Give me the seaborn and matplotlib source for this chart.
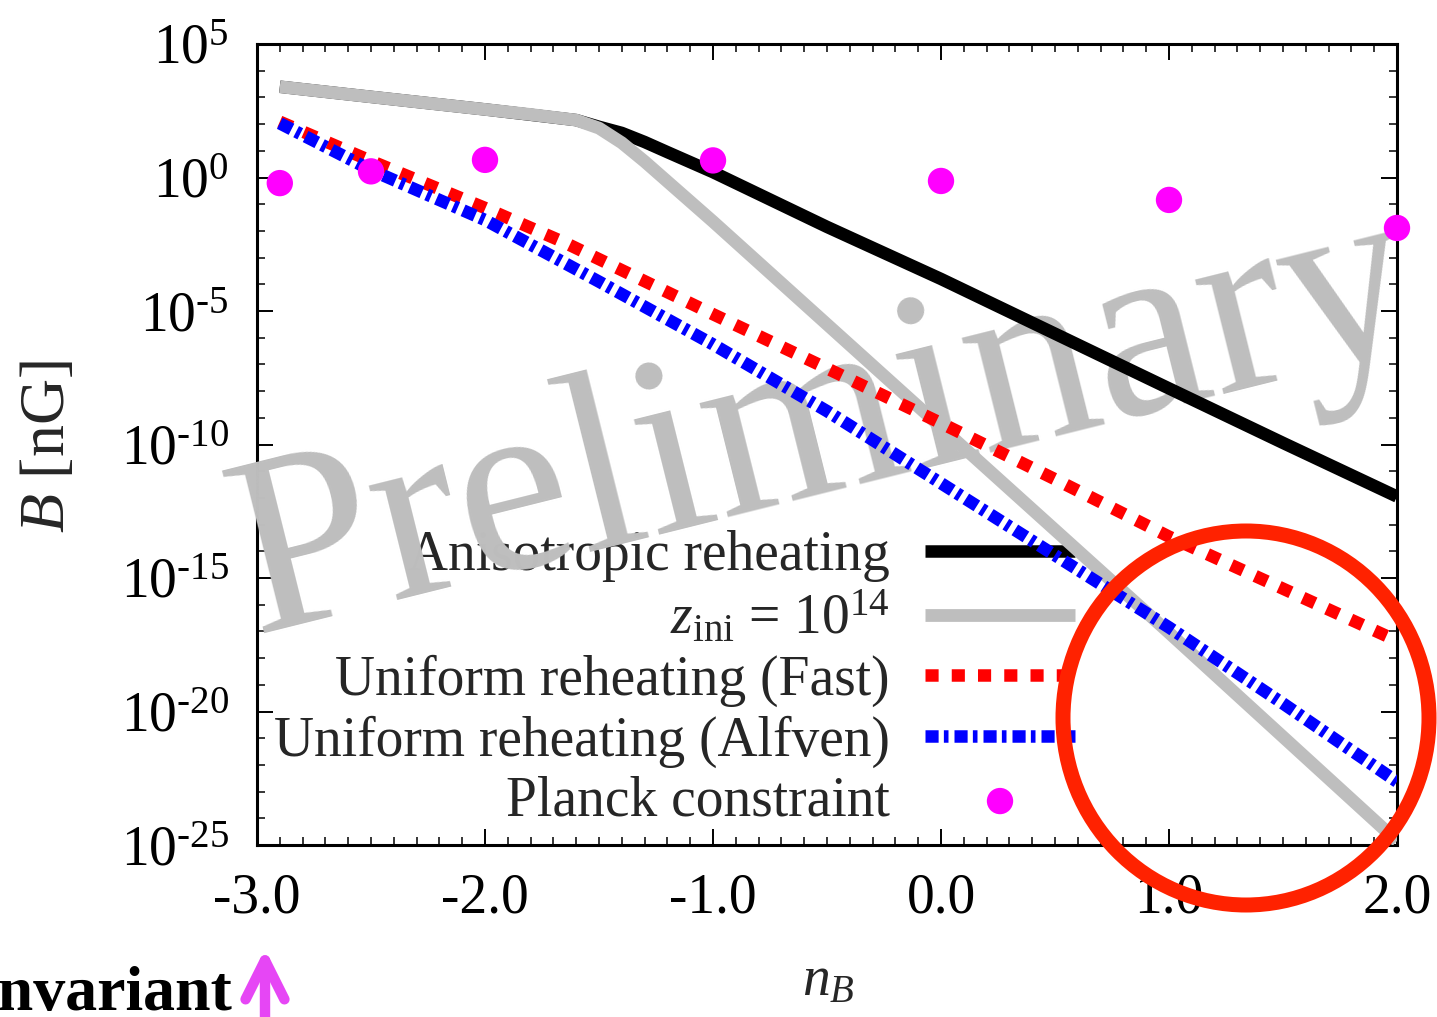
import numpy as np
import matplotlib
matplotlib.use("Agg")
import matplotlib.pyplot as plt
import matplotlib.ticker as mticker
from matplotlib.patches import Ellipse, FancyArrowPatch
import seaborn as sns

# ---------------- data ----------------
nB_aniso = [-2.9, -2.5, -2.0, -1.6, -1.5, -1.4, -1.3, -1.2, -1.0, -0.5, 0.0, 0.5, 1.0, 1.5, 2.0]
log10B_aniso = [3.40, 3.02, 2.55, 2.15, 1.90, 1.67, 1.33, 0.95, 0.20, -1.85, -3.80, -5.85, -7.90, -9.94, -11.95]

nB_zini = [-2.9, -2.5, -2.0, -1.8, -1.6, -1.5, -1.4, -1.3, -1.0, 0.0, 1.0, 2.0]
log10B_zini = [3.40, 3.02, 2.55, 2.36, 2.15, 1.85, 1.30, 0.60, -1.65, -9.35, -17.05, -24.85]

nB_fast = [-2.9, -2.5, -2.0, -1.65, -1.0, -0.5, 0.0, 0.5, 1.0, 1.5, 2.0]
log10B_fast = [2.09, 0.62, -1.14, -2.44, -5.12, -7.15, -9.20, -11.30, -13.45, -15.40, -17.35]

nB_alfven = [-2.9, -2.5, -2.0, -1.5, -1.0, -0.5, 0.0, 0.5, 1.0, 1.5, 2.0]
log10B_alfven = [2.03, 0.28, -1.59, -3.90, -6.25, -8.75, -11.45, -14.15, -16.85, -19.70, -22.63]

nB_planck = [-2.9, -2.5, -2.0, -1.0, 0.0, 1.0, 2.0]
log10B_planck = [-0.21, 0.23, 0.66, 0.64, -0.13, -0.84, -1.89]

series_labels = ["Anisotropic reheating",
                 r"$z_{\mathrm{ini}}$ = 10$^{14}$",
                 "Uniform reheating (Fast)",
                 "Uniform reheating (Alfven)",
                 "Planck constraint"]

x_ticks = [-3.0, -2.0, -1.0, 0.0, 1.0, 2.0]
x_tick_labels = ["-3.0", "-2.0", "-1.0", "0.0", "1.0", "2.0"]
y_tick_exps = [5, 0, -5, -10, -15, -20, -25]
y_tick_labels = [r"$10^{%s}$" % (str(e).replace("-", "\u2010")) for e in y_tick_exps]

# ---------------- style ----------------
sns.set_style("ticks")
plt.rcParams["font.family"] = ["Liberation Serif", "DejaVu Serif"]
plt.rcParams["mathtext.fontset"] = "custom"
plt.rcParams["mathtext.rm"] = "Liberation Serif"
plt.rcParams["mathtext.it"] = "Liberation Serif:italic"
plt.rcParams["mathtext.bf"] = "Liberation Serif:bold"
plt.rcParams["axes.unicode_minus"] = False

W, H = 1437, 1017
fig = plt.figure(figsize=(W / 100, H / 100), dpi=100)
L, R, T, B = 257, 1397, 44, 845
ax = fig.add_axes([L / W, (H - B) / H, (R - L) / W, (B - T) / H])
ax.set_yscale("log")
ax.set_xlim(-3.0, 2.0)
ax.set_ylim(1e-25, 1e5)

FS = 40
lw_main = 9.0

sns.lineplot(x=nB_aniso, y=10 ** np.array(log10B_aniso), ax=ax, color="black",
             linewidth=lw_main, label=series_labels[0], zorder=6,
             solid_capstyle="butt", estimator=None, sort=False)
sns.lineplot(x=nB_zini, y=10 ** np.array(log10B_zini), ax=ax, color="#bebebe",
             linewidth=9.2, label=series_labels[1], zorder=6.1,
             solid_capstyle="butt", estimator=None, sort=False)
sns.lineplot(x=nB_fast, y=10 ** np.array(log10B_fast), ax=ax, color="#ff0000",
             linewidth=lw_main, label=series_labels[2], zorder=6.2,
             linestyle=(0, (1.05, 1.05)), dash_capstyle="butt", estimator=None, sort=False)
sns.lineplot(x=nB_alfven, y=10 ** np.array(log10B_alfven), ax=ax, color="#0000ff",
             linewidth=lw_main, label=series_labels[3], zorder=6.3,
             linestyle=(0, (1.05, 0.42, 0.37, 0.48)), dash_capstyle="butt",
             estimator=None, sort=False)
sns.scatterplot(x=nB_planck, y=10 ** np.array(log10B_planck), ax=ax, color="#ff00ff",
                s=360, edgecolor="none", linewidth=0, label=series_labels[4], zorder=7,
                clip_on=False)

# ---------------- axes ----------------
ax.set_xticks(x_ticks, labels=x_tick_labels)
ax.xaxis.set_minor_locator(mticker.MultipleLocator(0.1))
ax.yaxis.set_major_locator(mticker.FixedLocator([10.0 ** e for e in y_tick_exps]))
ax.yaxis.set_major_formatter(mticker.FixedFormatter(y_tick_labels))
ax.yaxis.set_minor_locator(mticker.FixedLocator([10.0 ** e for e in range(-25, 6) if e % 5 != 0]))
ax.yaxis.set_minor_formatter(mticker.NullFormatter())

ax.tick_params(which="both", direction="in", top=True, right=True, colors="black")
ax.tick_params(which="major", length=11.5, width=1.4)
ax.tick_params(which="minor", length=5.8, width=1.1)
ax.tick_params(axis="x", which="major", labelsize=FS, pad=20)
ax.tick_params(axis="y", which="major", labelsize=FS, pad=20)
for sp in ax.spines.values():
    sp.set_linewidth(2.2)
    sp.set_color("black")
    sp.set_visible(True)

ax.set_xlabel(r"$n_B$", fontsize=FS)
ax.xaxis.set_label_coords((828 - L) / (R - L), (B - 955) / (B - T))
ax.set_ylabel(r"$B$ [nG]", fontsize=46)
ax.yaxis.set_label_coords((78 - L) / (R - L), (B - 447) / (B - T))

handles, labels = ax.get_legend_handles_labels()
leg = ax.legend(handles, labels, loc="upper right",
                bbox_to_anchor=((1075 - L) / (R - L), (B - 530) / (B - T)),
                frameon=False, fontsize=FS, markerfirst=False,
                handlelength=2.7, handletextpad=0.63, labelspacing=0.145,
                borderpad=0, borderaxespad=0)
leg.set_zorder(5)

# ---------------- watermark ----------------
ax.text(255 / W, (H - 634) / H, "Preliminary", transform=fig.transFigure,
        fontsize=184, color="#bebebe", rotation=14.0, rotation_mode="anchor",
        ha="left", va="baseline", zorder=5.5)

# ---------------- annotations ----------------
fig.add_artist(Ellipse((1246 / W, (H - 718) / H), 2 * 183 / W, 2 * 187 / H,
                       transform=fig.transFigure, fill=False,
                       edgecolor="#ff2200", linewidth=10.8, zorder=20))

fig.add_artist(FancyArrowPatch((265 / W, (H - 1030) / H), (265 / W, (H - 946) / H),
                               transform=fig.transFigure,
                               arrowstyle="->,head_length=28,head_width=14",
                               color="#e646f5", linewidth=7.5, capstyle="round",
                               joinstyle="round", zorder=20))
fig.text(232 / W, (H - 1010) / H, "invariant", fontsize=46, fontweight="bold",
         ha="right", va="baseline", color="black")

fig.savefig("out.png", dpi=100)
